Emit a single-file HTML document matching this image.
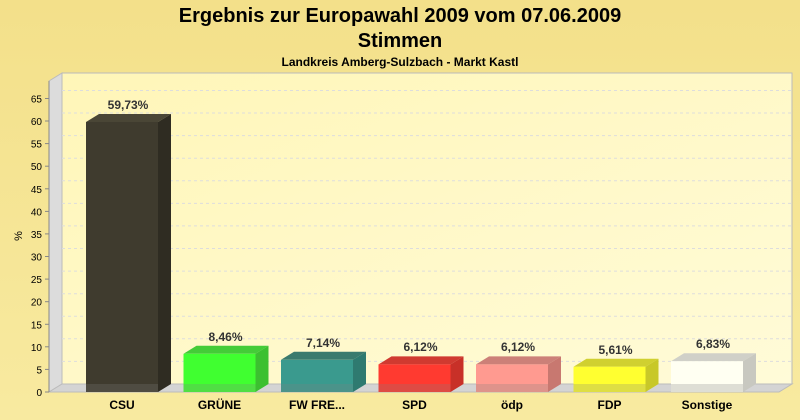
<!DOCTYPE html><html><head><meta charset="utf-8"><style>body{margin:0}svg{display:block}text{font-family:"Liberation Sans",sans-serif}</style></head><body>
<svg width="800" height="420" xmlns="http://www.w3.org/2000/svg">
<defs><linearGradient id="bg" x1="0" y1="0" x2="0" y2="1"><stop offset="0" stop-color="#f3e08a"/><stop offset="1" stop-color="#f8eaa0"/></linearGradient>
<linearGradient id="wall" x1="0" y1="0" x2="1" y2="1"><stop offset="0" stop-color="#fff6b8"/><stop offset="1" stop-color="#fffbd8"/></linearGradient></defs>
<rect width="800" height="420" fill="url(#bg)"/>
<text x="400" y="22" font-size="20" font-weight="bold" text-anchor="middle" fill="#000">Ergebnis zur Europawahl 2009 vom 07.06.2009</text>
<text x="400" y="47" font-size="20" font-weight="bold" text-anchor="middle" fill="#000">Stimmen</text>
<text x="400" y="66" font-size="12" font-weight="bold" text-anchor="middle" fill="#000">Landkreis Amberg-Sulzbach - Markt Kastl</text>
<rect x="62" y="73" width="730" height="311" fill="url(#wall)" stroke="#bbb"/>
<polygon points="49,81 62,73 62,384 49,392" fill="#dcdcdc" stroke="#bbb"/>
<polygon points="49,392 62,384 792,384 779,392" fill="#d4d4d4" stroke="#bbb"/>
<g stroke="#ddd" stroke-dasharray="3,3">
<line x1="62" x2="792" y1="361.4" y2="361.4"/><line x1="62" x2="792" y1="338.8" y2="338.8"/><line x1="62" x2="792" y1="316.3" y2="316.3"/><line x1="62" x2="792" y1="293.7" y2="293.7"/><line x1="62" x2="792" y1="271.1" y2="271.1"/><line x1="62" x2="792" y1="248.5" y2="248.5"/><line x1="62" x2="792" y1="225.9" y2="225.9"/><line x1="62" x2="792" y1="203.4" y2="203.4"/><line x1="62" x2="792" y1="180.8" y2="180.8"/><line x1="62" x2="792" y1="158.2" y2="158.2"/><line x1="62" x2="792" y1="135.6" y2="135.6"/><line x1="62" x2="792" y1="113" y2="113"/><line x1="62" x2="792" y1="90.5" y2="90.5"/>
</g>
<g stroke="#888"><line x1="49" y1="81" x2="49" y2="392"/>
<line x1="45" x2="49" y1="392" y2="392"/><line x1="45" x2="49" y1="369.4" y2="369.4"/><line x1="45" x2="49" y1="346.8" y2="346.8"/><line x1="45" x2="49" y1="324.3" y2="324.3"/><line x1="45" x2="49" y1="301.7" y2="301.7"/><line x1="45" x2="49" y1="279.1" y2="279.1"/><line x1="45" x2="49" y1="256.5" y2="256.5"/><line x1="45" x2="49" y1="233.9" y2="233.9"/><line x1="45" x2="49" y1="211.4" y2="211.4"/><line x1="45" x2="49" y1="188.8" y2="188.8"/><line x1="45" x2="49" y1="166.2" y2="166.2"/><line x1="45" x2="49" y1="143.6" y2="143.6"/><line x1="45" x2="49" y1="121" y2="121"/><line x1="45" x2="49" y1="98.5" y2="98.5"/></g>
<g font-size="10" text-anchor="end" fill="#000">
<text x="42" y="396">0</text><text x="42" y="373.4">5</text><text x="42" y="350.8">10</text><text x="42" y="328.3">15</text><text x="42" y="305.7">20</text><text x="42" y="283.1">25</text><text x="42" y="260.5">30</text><text x="42" y="237.9">35</text><text x="42" y="215.4">40</text><text x="42" y="192.8">45</text><text x="42" y="170.2">50</text><text x="42" y="147.6">55</text><text x="42" y="125">60</text><text x="42" y="102.5">65</text></g>
<text x="22" y="236" font-size="11" text-anchor="middle" transform="rotate(-90 22 236)">%</text>

<g>
<polygon points="86,122 99,114 171,114 158,122" fill="#4a4636"/>
<polygon points="158,122 171,114 171,384 158,392" fill="#2f2c22"/>
<rect x="86" y="122" width="72" height="270" fill="#3f3b2e"/>
</g>
<g>
<polygon points="183.5,353.8 196.5,345.8 268.5,345.8 255.5,353.8" fill="#44cc38"/>
<polygon points="255.5,353.8 268.5,345.8 268.5,384 255.5,392" fill="#3cc030"/>
<rect x="183.5" y="353.8" width="72" height="38.2" fill="#40ff30"/>
</g>
<g>
<polygon points="281,359.8 294,351.8 366,351.8 353,359.8" fill="#3a7a6e"/>
<polygon points="353,359.8 366,351.8 366,384 353,392" fill="#2f7a70"/>
<rect x="281" y="359.8" width="72" height="32.2" fill="#3a9a8e"/>
</g>
<g>
<polygon points="378.5,364.4 391.5,356.4 463.5,356.4 450.5,364.4" fill="#d03a30"/>
<polygon points="450.5,364.4 463.5,356.4 463.5,384 450.5,392" fill="#c83028"/>
<rect x="378.5" y="364.4" width="72" height="27.6" fill="#ff3a30"/>
</g>
<g>
<polygon points="476,364.4 489,356.4 561,356.4 548,364.4" fill="#cc8078"/>
<polygon points="548,364.4 561,356.4 561,384 548,392" fill="#c87870"/>
<rect x="476" y="364.4" width="72" height="27.6" fill="#ff9a90"/>
</g>
<g>
<polygon points="573.5,366.7 586.5,358.7 658.5,358.7 645.5,366.7" fill="#d0d030"/>
<polygon points="645.5,366.7 658.5,358.7 658.5,384 645.5,392" fill="#c8c828"/>
<rect x="573.5" y="366.7" width="72" height="25.3" fill="#ffff30"/>
</g>
<g>
<polygon points="671,361.2 684,353.2 756,353.2 743,361.2" fill="#d0d0c8"/>
<polygon points="743,361.2 756,353.2 756,384 743,392" fill="#c8c8c0"/>
<rect x="671" y="361.2" width="72" height="30.8" fill="#fffff2"/>
</g>
<g fill="#808080" opacity="0.25">
<rect x="86" y="384" width="72" height="8"/><rect x="183.5" y="384" width="72" height="8"/><rect x="281" y="384" width="72" height="8"/><rect x="378.5" y="384" width="72" height="8"/><rect x="476" y="384" width="72" height="8"/><rect x="573.5" y="384" width="72" height="8"/><rect x="671" y="384" width="72" height="8"/>
</g>
<g font-size="12" font-weight="bold" fill="#333" text-anchor="middle">
<text x="128" y="109">59,73%</text>
<text x="225.5" y="341">8,46%</text>
<text x="323" y="347">7,14%</text>
<text x="420.5" y="351">6,12%</text>
<text x="518" y="351">6,12%</text>
<text x="615.5" y="354">5,61%</text>
<text x="713" y="348">6,83%</text>
</g>
<g font-size="12" font-weight="bold" fill="#000" text-anchor="middle">
<text x="122" y="409">CSU</text>
<text x="219.5" y="409">GRÜNE</text>
<text x="317" y="409">FW FRE...</text>
<text x="414.5" y="409">SPD</text>
<text x="512" y="409">ödp</text>
<text x="609.5" y="409">FDP</text>
<text x="707" y="409">Sonstige</text>
</g>
</svg></body></html>
